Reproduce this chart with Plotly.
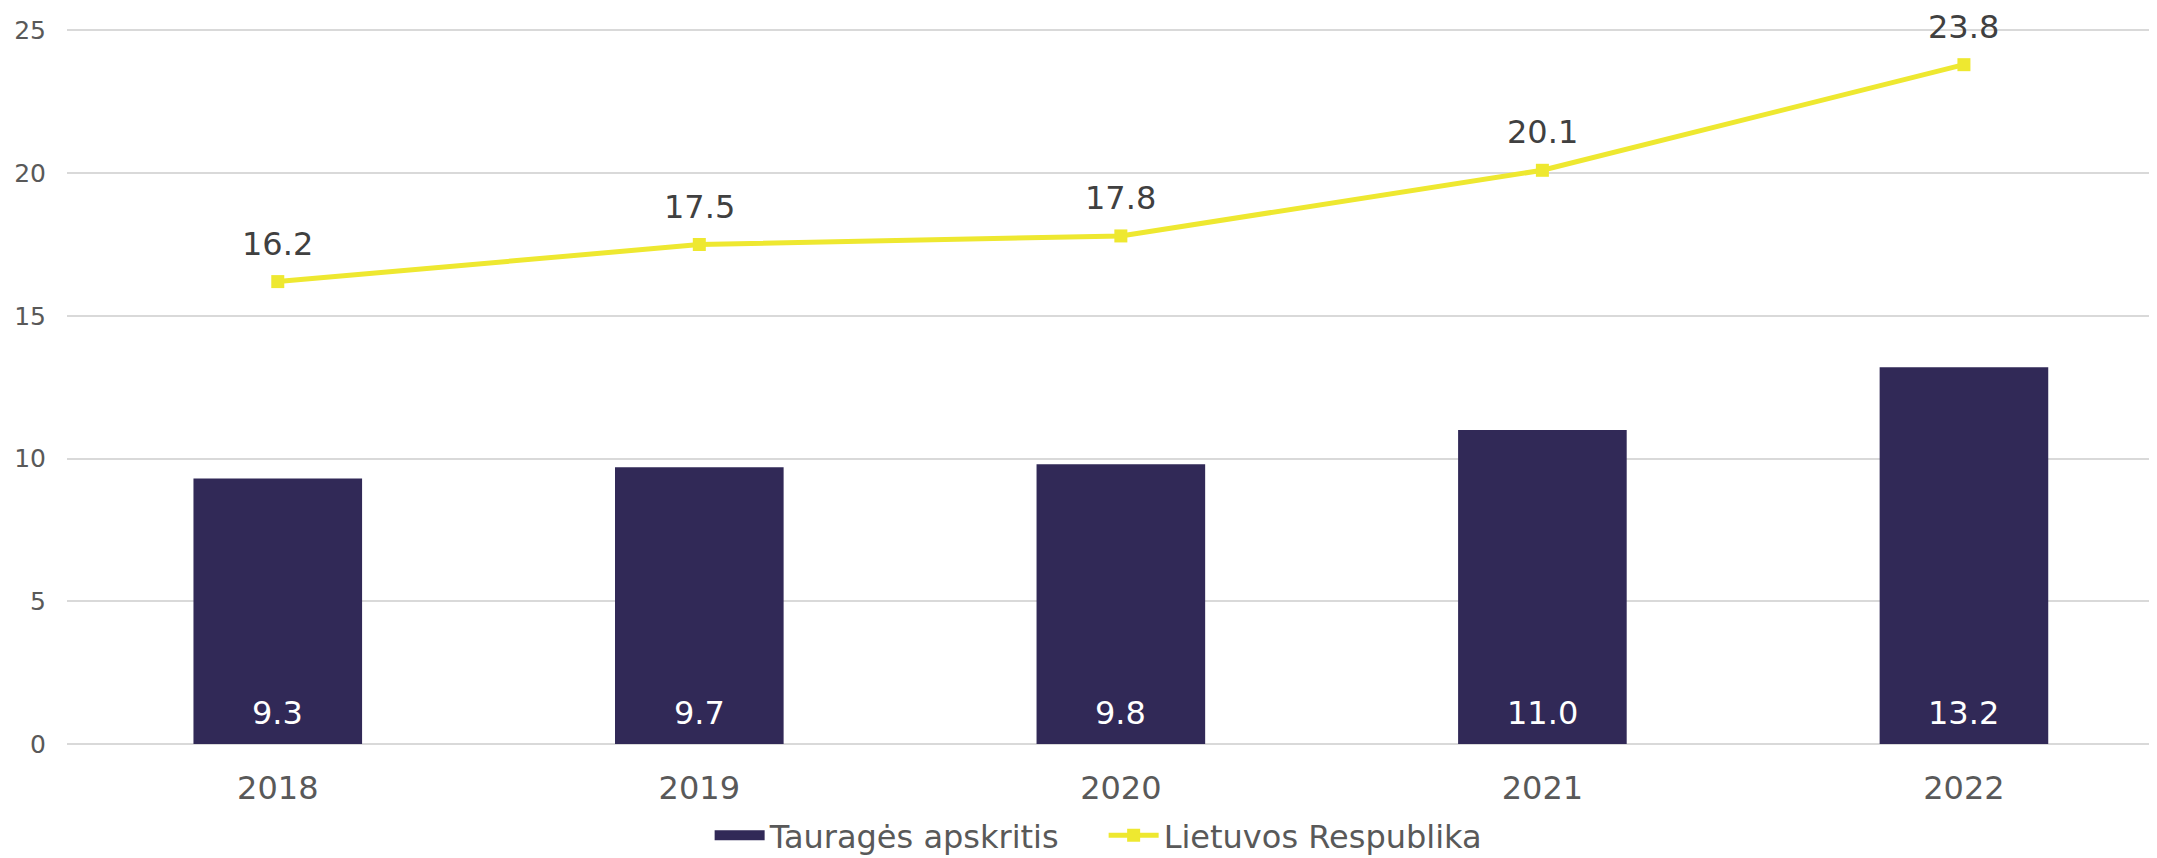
import plotly.graph_objects as go

years = ["2018", "2019", "2020", "2021", "2022"]
taurage = [9.3, 9.7, 9.8, 11.0, 13.2]
lietuva = [16.2, 17.5, 17.8, 20.1, 23.8]
y_ticks = [0, 5, 10, 15, 20, 25]

BAR_COLOR = "#312957"
LINE_COLOR = "#EEE830"
FONT = "DejaVu Sans"

fig = go.Figure()
fig.add_trace(go.Bar(
    x=years, y=taurage, name="Tauragės apskritis",
    marker=dict(color=BAR_COLOR, line=dict(width=0)),
    width=0.4, showlegend=False,
))
# legend entry for the bars drawn as a wide block
fig.add_trace(go.Scatter(
    x=[None], y=[None], name="Tauragės apskritis", mode="lines",
    line=dict(color=BAR_COLOR, width=17), hoverinfo="skip",
))
fig.add_trace(go.Scatter(
    x=years, y=lietuva, name="Lietuvos Respublika",
    mode="lines+markers",
    line=dict(color=LINE_COLOR, width=5),
    marker=dict(symbol="square", size=13, color=LINE_COLOR),
))
# value labels (category positions by index)
for i, v in enumerate(taurage):
    fig.add_annotation(
        x=i, y=0, text=f"{v:.1f}", showarrow=False,
        yanchor="bottom", yshift=10,
        font=dict(color="white", size=32, family=FONT),
    )
for i, v in enumerate(lietuva):
    fig.add_annotation(
        x=i, y=v, text=f"{v:.1f}", showarrow=False,
        yanchor="bottom", yshift=17,
        font=dict(color="#404040", size=32, family=FONT),
    )

# page body has an 8px margin, so the figure is shrunk by 8px
fig.update_layout(
    width=2149, height=850,
    margin=dict(l=59, r=0, t=21, b=114, pad=0, autoexpand=False),
    plot_bgcolor="white", paper_bgcolor="white",
    font=dict(family=FONT, color="#595959"),
    showlegend=True,
    legend=dict(orientation="h", x=0.496, xanchor="center", y=-0.128, yanchor="middle",
                font=dict(size=32, color="#595959"), itemwidth=50,
                entrywidth=329, entrywidthmode="pixels",
                traceorder="normal", tracegroupgap=0),
)
fig.update_xaxes(
    type="category", range=[-0.5, 4.458], automargin=False,
    showline=False, showgrid=False, ticks="",
    tickfont=dict(size=32, color="#595959"),
    ticklabelstandoff=22,
)
fig.update_yaxes(
    range=[0, 25.05], tickvals=y_ticks, automargin=False,
    showgrid=True, gridcolor="#D9D9D9", gridwidth=2,
    zeroline=True, zerolinecolor="#D9D9D9", zerolinewidth=2,
    showline=False, ticks="",
    tickfont=dict(size=25, color="#595959"),
    ticklabelstandoff=20,
)

fig.write_html("out.html")
